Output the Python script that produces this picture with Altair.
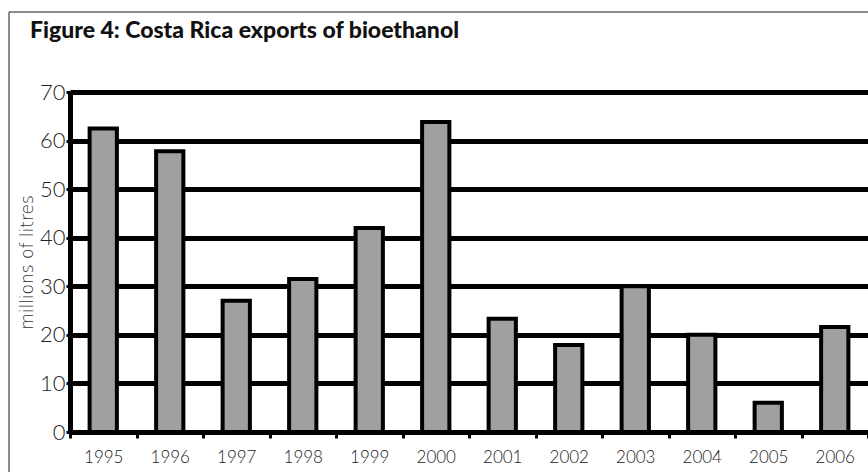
import altair as alt
import pandas as pd

# Annual bioethanol exports, millions of litres
years = ["1995", "1996", "1997", "1998", "1999", "2000",
         "2001", "2002", "2003", "2004", "2005", "2006"]
exports = [62.5, 57.8, 27.0, 31.5, 42.0, 63.8, 23.3, 17.9, 30.0, 20.0, 6.0, 21.6]
y_ticks = [0, 10, 20, 30, 40, 50, 60, 70]
title_text = "Figure 4: Costa Rica exports of bioethanol"
y_title = "millions of litres"

df = pd.DataFrame({"year": years, "exports": exports})
frame_df = pd.DataFrame({"k": [0]})

PLOT_W, PLOT_H = 798, 340
LABEL_FONT = "Lato"

bars = alt.Chart(df).mark_bar(
    fill="#a0a0a0", stroke="black", strokeWidth=4,
    width=alt.RelativeBandSize(0.41),
).encode(
    x=alt.X(
        "year:N", sort=years, title=None,
        scale=alt.Scale(paddingInner=0, paddingOuter=0),
        axis=alt.Axis(
            labelAngle=0, labelFont=LABEL_FONT, labelFontSize=17,
            labelFontWeight=300, labelColor="#222", labelPadding=11,
            domainColor="black", domainWidth=5,
            ticks=True, tickBand="extent", tickColor="black",
            tickWidth=3, tickSize=6, grid=False,
        ),
    ),
    y=alt.Y(
        "exports:Q", title=y_title,
        scale=alt.Scale(domain=[0, 70], nice=False),
        axis=alt.Axis(
            values=y_ticks,
            labelFont=LABEL_FONT, labelFontSize=22, labelFontWeight=300,
            labelColor="#222", labelPadding=1,
            domainColor="black", domainWidth=5,
            tickColor="black", tickWidth=3, tickSize=4,
            grid=True, gridColor="black", gridWidth=5,
            titleFont="DejaVu Sans", titleFontSize=17, titleFontWeight=200,
            titleColor="#333", titlePadding=3,
        ),
    ),
)

# Thin outer frame around the figure (top and left edges)
frame_top = alt.Chart(frame_df).mark_rule(color="#666", strokeWidth=1.5).encode(
    x=alt.value(-61), x2=alt.value(PLOT_W + 50), y=alt.value(-80)
)
frame_left = alt.Chart(frame_df).mark_rule(color="#666", strokeWidth=1.5).encode(
    x=alt.value(-61), y=alt.value(-80), y2=alt.value(PLOT_H + 80)
)

heading = alt.Chart(frame_df).mark_text(
    align="left", baseline="alphabetic", font=LABEL_FONT,
    fontSize=23, fontWeight=900, color="#111",
).encode(x=alt.value(-40), y=alt.value(-54), text=alt.value(title_text))

chart = alt.layer(frame_top, frame_left, heading, bars).properties(
    width=PLOT_W,
    height=PLOT_H,
    autosize=alt.AutoSizeParams(type="none"),
    padding={"left": 70, "top": 92, "right": 0, "bottom": 40},
).configure_view(stroke=None).configure(background="white")

chart.save("out.html", embed_options={"renderer": "svg", "actions": False})
